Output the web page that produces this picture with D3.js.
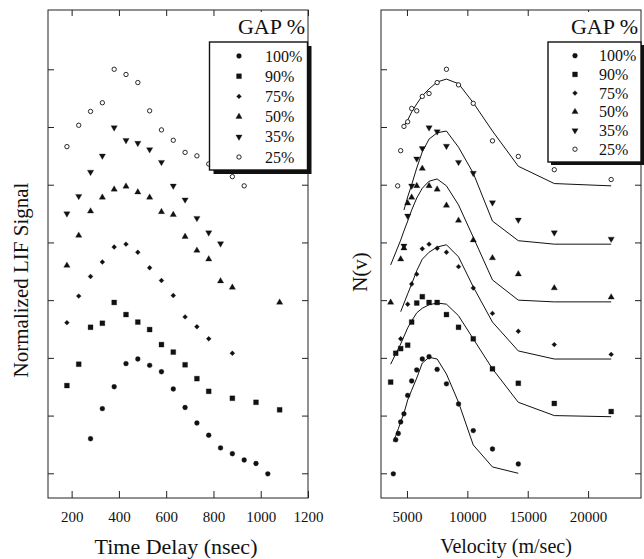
<!DOCTYPE html>
<html>
<head>
<meta charset="utf-8">
<script src="https://cdnjs.cloudflare.com/ajax/libs/d3/7.8.5/d3.min.js"></script>
<style>
  body { margin: 0; background: #fff; }
  svg { display: block; }
  text { font-family: "Liberation Serif", "Times New Roman", serif; fill: #111; }
</style>
</head>
<body>
<div id="chart"></div>
<script>
const gapLabels = ["100%", "90%", "75%", "50%", "35%", "25%"];
const yTicks = [1, 2, 3, 4, 5, 6, 7, 8];
const timeTicks = [200, 400, 600, 800, 1000, 1200];
const velTicks = [5000, 10000, 15000, 20000];

// left panel: time delay (nsec) vs normalized LIF signal, each gap offset by one unit
const time100 = [280, 330, 380, 430, 480, 530, 580, 630, 680, 730, 780, 830, 880, 930, 980, 1030];
const lif100  = [1.60, 2.12, 2.50, 2.90, 2.98, 2.87, 2.76, 2.46, 2.14, 1.87, 1.66, 1.44, 1.34, 1.23, 1.17, 0.99];
const time90  = [180, 230, 280, 330, 380, 430, 480, 530, 580, 630, 680, 730, 780, 880, 980, 1080];
const lif90   = [2.52, 2.89, 3.53, 3.60, 3.96, 3.75, 3.62, 3.49, 3.23, 3.10, 2.88, 2.64, 2.42, 2.30, 2.23, 2.10];
const time75  = [180, 230, 280, 330, 380, 430, 480, 530, 580, 630, 680, 730, 780, 880];
const lif75   = [3.61, 4.07, 4.41, 4.66, 4.92, 4.97, 4.83, 4.56, 4.34, 4.08, 3.71, 3.54, 3.33, 3.08];
const time50  = [180, 230, 280, 330, 380, 430, 480, 530, 580, 630, 680, 730, 780, 830, 880, 1080];
const lif50   = [4.60, 5.12, 5.54, 5.78, 5.92, 5.97, 5.87, 5.78, 5.53, 5.48, 5.10, 4.86, 4.71, 4.33, 4.22, 3.96];
const time35  = [180, 230, 280, 330, 380, 430, 480, 530, 580, 630, 680, 730, 780, 830];
const lif35   = [5.50, 5.80, 6.22, 6.50, 6.99, 6.77, 6.72, 6.61, 6.39, 5.98, 5.74, 5.42, 5.17, 4.98];
const time25  = [180, 230, 280, 330, 380, 430, 480, 530, 580, 630, 680, 730, 780, 880, 930];
const lif25   = [6.66, 7.03, 7.27, 7.42, 8.00, 7.91, 7.77, 7.28, 6.95, 6.77, 6.56, 6.50, 6.36, 6.14, 5.98];

// right panel: velocity (m/sec) vs N(v), points and fitted curve (null = no curve there)
const vel100 = [3870, 4070, 4280, 4480, 4750, 5060, 5390, 5810, 6270, 6830, 7500, 8270, 9270, 10490, 12080, 14220];
const nv100  = [0.99, 1.58, 1.69, 1.89, 2.03, 2.35, 2.60, 2.79, 2.98, 3.02, 2.80, 2.55, 2.20, 1.74, 1.42, 1.16];
const fit100 = [1.55, 1.65, 1.77, 1.89, 2.04, 2.27, 2.44, 2.65, 2.91, 3.01, 2.98, 2.72, 2.23, 1.49, 1.11, 1.00];
const vel90  = [3650, 4070, 4480, 5060, 5390, 5810, 6270, 6830, 7500, 8270, 9270, 10490, 12080, 14220, 17200, 21910];
const nv90   = [2.58, 3.08, 3.16, 3.22, 3.62, 3.95, 4.06, 3.96, 3.96, 3.75, 3.53, 3.33, 2.81, 2.56, 2.21, 2.07];
const fit90  = [2.89, 3.07, 3.24, 3.52, 3.64, 3.78, 3.86, 3.92, 3.95, 3.93, 3.73, 3.33, 2.81, 2.23, 2.00, 1.98];
const vel75  = [4480, 5060, 5390, 5810, 6270, 6830, 7500, 8270, 9270, 10490, 12080, 14220, 17200, 21910];
const nv75   = [3.33, 3.93, 4.28, 4.45, 4.89, 4.97, 4.90, 4.83, 4.58, 4.21, 3.77, 3.46, 3.23, 3.06];
const fit75  = [3.80, 4.11, 4.28, 4.51, 4.71, 4.83, 4.92, 4.96, 4.75, 4.23, 3.62, 3.12, 2.98, 2.98];
const vel50  = [3650, 4480, 4750, 5060, 5390, 5810, 6270, 6830, 7500, 8270, 9270, 10490, 12080, 14220, 17200, 21910];
const nv50   = [3.96, 4.71, 4.90, 5.68, 5.78, 5.98, 6.28, 5.98, 5.92, 5.64, 5.38, 5.04, 4.73, 4.45, 4.21, 4.05];
const fit50  = [4.61, 5.04, 5.20, 5.37, 5.56, 5.77, 5.94, 6.06, 6.10, 5.98, 5.65, 5.09, 4.35, 4.00, 3.97, 3.97];
const vel35  = [4750, 5060, 5390, 5810, 6270, 6830, 7500, 8270, 9270, 10490, 12080, 14220, 17200, 21910];
const nv35   = [4.94, 5.46, 5.98, 6.45, 6.63, 6.99, 6.92, 6.67, 6.39, 6.20, 5.69, 5.39, 5.17, 5.06];
const fit35  = [5.56, 5.79, 6.00, 6.29, 6.57, 6.79, 6.90, 6.93, 6.65, 6.20, 5.37, 5.03, 4.97, 4.97];
const vel25  = [4230, 4480, 4750, 5060, 5390, 5810, 6270, 6830, 7500, 8270, 9270, 10490, 12080, 14220, 17200, 21910];
const nv25   = [5.98, 6.59, 7.01, 7.09, 7.32, 7.28, 7.53, 7.58, 7.77, 8.00, 7.73, 7.41, 6.76, 6.49, 6.26, 6.09];
const fit25  = [null, null, 7.02, 7.12, 7.26, 7.40, 7.54, 7.66, 7.78, 7.83, 7.75, 7.42, 6.93, 6.32, 6.02, 5.98];

const leftSeries = [
  {gap: "100%", x: time100, y: lif100},
  {gap: "90%",  x: time90,  y: lif90},
  {gap: "75%",  x: time75,  y: lif75},
  {gap: "50%",  x: time50,  y: lif50},
  {gap: "35%",  x: time35,  y: lif35},
  {gap: "25%",  x: time25,  y: lif25}
];
const rightSeries = [
  {gap: "100%", x: vel100, y: nv100, fit: fit100},
  {gap: "90%",  x: vel90,  y: nv90,  fit: fit90},
  {gap: "75%",  x: vel75,  y: nv75,  fit: fit75},
  {gap: "50%",  x: vel50,  y: nv50,  fit: fit50},
  {gap: "35%",  x: vel35,  y: nv35,  fit: fit35},
  {gap: "25%",  x: vel25,  y: nv25,  fit: fit25}
];

// 75% is a small square turned on its corner
const marker = {
  "100%": {type: d3.symbolCircle,   size: 19, rot: 0,   open: false},
  "90%":  {type: d3.symbolSquare,   size: 24, rot: 0,   open: false},
  "75%":  {type: d3.symbolSquare,   size: 12, rot: 45,  open: false},
  "50%":  {type: d3.symbolTriangle, size: 17, rot: 0,   open: false},
  "35%":  {type: d3.symbolTriangle, size: 17, rot: 180, open: false},
  "25%":  {type: d3.symbolCircle,   size: 15, rot: 0,   open: true}
};

const svg = d3.select("#chart").append("svg")
    .attr("width", 644)
    .attr("height", 559);

const y = d3.scaleLinear().domain([0.572, 9.027]).range([498, 10]);
const xLeft = d3.scaleLinear().domain([100, 1200]).range([48, 308]);
const xRight = d3.scaleLinear().domain([2850, 24380]).range([381, 641]);

function drawMarks(g, x, series) {
  series.forEach(s => {
    const m = marker[s.gap];
    const sym = d3.symbol().type(m.type).size(m.size);
    g.selectAll(null)
      .data(s.x.map((v, i) => [v, s.y[i]]))
      .enter().append("path")
        .attr("d", sym)
        .attr("transform", d => "translate(" + x(d[0]) + "," + y(d[1]) + ") rotate(" + m.rot + ")")
        .attr("fill", m.open ? "#fff" : "#111")
        .attr("stroke", "#111")
        .attr("stroke-width", m.open ? 0.9 : 0.3);
  });
}

function drawFrame(g, x, left, right, xTicks, tickFmt) {
  g.append("g")
      .attr("transform", "translate(0,498)")
      .call(d3.axisBottom(x).tickValues(xTicks).tickSize(-7).tickPadding(13).tickFormat(tickFmt))
      .call(a => a.select(".domain").remove())
      .call(a => a.selectAll("text").attr("font-size", 15).attr("font-family", "Liberation Serif, serif").attr("fill", "#111"));
  g.append("g")
      .attr("transform", "translate(0,10)")
      .call(d3.axisTop(x).tickValues(xTicks).tickSize(-6).tickFormat(""))
      .call(a => a.select(".domain").remove());
  g.append("g")
      .attr("transform", "translate(" + left + ",0)")
      .call(d3.axisLeft(y).tickValues(yTicks).tickSize(-6).tickFormat(""))
      .call(a => a.select(".domain").remove());
  g.append("g")
      .attr("transform", "translate(" + right + ",0)")
      .call(d3.axisRight(y).tickValues(yTicks).tickSize(-6).tickFormat(""))
      .call(a => a.select(".domain").remove());
  g.selectAll(".tick line").attr("stroke", "#222");
  g.append("rect")
      .attr("x", left).attr("y", 10)
      .attr("width", right - left).attr("height", 488)
      .attr("fill", "none").attr("stroke", "#222").attr("stroke-width", 1);
}

function drawLegend(g, bx, by, bw, bh, shadow, rowY, rowStep, symX, textX, titleX) {
  // title above the box
  g.append("rect")
      .attr("x", titleX - 74).attr("y", 12).attr("width", 72).attr("height", 26)
      .attr("fill", "#fff");
  g.append("text")
      .attr("x", titleX).attr("y", 34)
      .attr("text-anchor", "end")
      .attr("font-size", 22)
      .text("GAP %");
  g.append("rect")
      .attr("x", bx + shadow).attr("y", by + shadow)
      .attr("width", bw).attr("height", bh)
      .attr("fill", "#111");
  g.append("rect")
      .attr("x", bx).attr("y", by)
      .attr("width", bw).attr("height", bh)
      .attr("fill", "#fff").attr("stroke", "#111").attr("stroke-width", 1.4);
  gapLabels.forEach((gap, i) => {
    const m = marker[gap];
    const cy = rowY + i * rowStep;
    g.append("path")
        .attr("d", d3.symbol().type(m.type).size(m.size)())
        .attr("transform", "translate(" + symX + "," + cy + ") rotate(" + m.rot + ")")
        .attr("fill", m.open ? "#fff" : "#111")
        .attr("stroke", "#111")
        .attr("stroke-width", m.open ? 0.9 : 0.3);
    g.append("text")
        .attr("x", textX).attr("y", cy + 5.5)
        .attr("font-size", 16)
        .text(gap);
  });
}

// left panel
const gl = svg.append("g");
drawFrame(gl, xLeft, 48, 308, timeTicks, d3.format("d"));
drawMarks(gl, xLeft, leftSeries);
drawLegend(gl, 209.5, 42, 98, 128, 4, 56, 20.2, 239, 265, 305);
gl.append("text")
    .attr("transform", "translate(28,280) rotate(-90)")
    .attr("text-anchor", "middle")
    .attr("font-size", 21)
    .text("Normalized LIF Signal");
gl.append("text")
    .attr("x", 176).attr("y", 554)
    .attr("text-anchor", "middle")
    .attr("font-size", 22)
    .text("Time Delay (nsec)");

// right panel
const gr = svg.append("g");
drawFrame(gr, xRight, 381, 641, velTicks, d3.format("d"));
const fitLine = d3.line()
    .defined(d => d[1] != null)
    .x(d => xRight(d[0]))
    .y(d => y(d[1]));
rightSeries.forEach(s => {
  gr.append("path")
      .datum(s.x.map((v, i) => [v, s.fit[i]]))
      .attr("d", fitLine)
      .attr("fill", "none")
      .attr("stroke", "#111")
      .attr("stroke-width", 1);
});
drawMarks(gr, xRight, rightSeries);
drawLegend(gr, 548, 42, 93, 120, 3, 55.7, 18.7, 575, 599, 638);
gr.append("text")
    .attr("transform", "translate(367,272) rotate(-90)")
    .attr("text-anchor", "middle")
    .attr("font-size", 21)
    .text("N(v)");
gr.append("text")
    .attr("x", 506).attr("y", 553)
    .attr("text-anchor", "middle")
    .attr("font-size", 20)
    .text("Velocity (m/sec)");
</script>
</body>
</html>
